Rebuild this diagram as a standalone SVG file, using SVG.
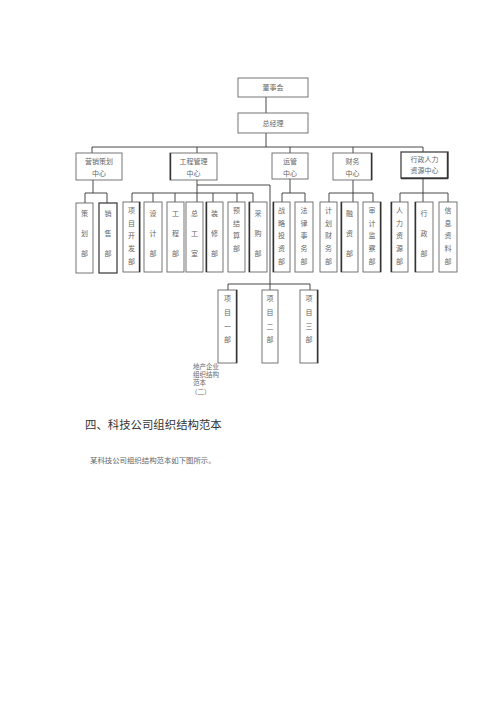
<svg xmlns="http://www.w3.org/2000/svg" width="500" height="707" viewBox="0 0 500 707">
<style>
.b{fill:#fff;stroke:#666;stroke-width:0.9}
.k{fill:#fff;stroke:#444;stroke-width:1.3}
.c{fill:none;stroke:#333;stroke-width:0.9}
.e{fill:none;stroke:#333;stroke-width:1.4}
text{font-family:"Liberation Serif","Noto Sans CJK SC",serif;fill:#666;font-size:7px;text-anchor:middle}
.s{font-size:6.5px}
</style>
<rect width="500" height="707" fill="#fff"/>
<g id="connectors">
<path class="c" d="M266 97V113M266 133V147M92 147H423M92 147V153M197 147V153M290 147V153M353 147V153M423 147V152"/>
<path class="c" d="M93 180V193M85 193H107M85 193V203M107 193V203"/>
<path class="c" d="M197 180V202M132 193H253M132 193V202M153 193V202M175 193V202M213 193V202M237 193V202M253 193V202"/>
<path class="c" d="M197 185H270V284M228 284H310M228 284V290M270 284V290M310 284V290"/>
<path class="c" d="M290 179V193M282 193H305M282 193V202M305 193V202"/>
<path class="c" d="M353 180V202M329 193H373M329 193V202M373 193V202"/>
<path class="c" d="M423 178V202M400 193H448M400 193V202M448 193V202"/>
</g>
<g id="n-dsh"><rect class="b" x="238" y="78" width="70" height="19"/><text x="273" y="90">董事会</text></g>
<g id="n-zjl"><rect class="b" x="238" y="113" width="70" height="20"/><text x="273" y="126">总经理</text></g>
<g id="n-yxch"><rect class="b" x="76" y="153" width="46" height="27"/><text x="99" y="164">营销策划</text><text x="99" y="176">中心</text></g>
<g id="n-gcgl"><rect class="b" x="170" y="153" width="47" height="27"/><path class="e" d="M170.5 153V180"/><text x="193.5" y="164">工程管理</text><text x="193.5" y="176">中心</text></g>
<g id="n-yg"><rect class="b" x="272" y="153" width="36" height="26"/><text x="290" y="164">运管</text><text x="290" y="176">中心</text></g>
<g id="n-cw"><rect class="b" x="333" y="153" width="39" height="27"/><path class="e" d="M371.5 153V180"/><text x="352.5" y="164">财务</text><text x="352.5" y="176">中心</text></g>
<g id="n-xz"><rect class="k" x="401" y="152" width="47" height="26"/><path class="e" d="M447.5 152V178.5H401"/><text x="424.5" y="162">行政人力</text><text x="424.5" y="173">资源中心</text></g>

<g id="n-chb"><rect class="b" x="76" y="203" width="17" height="70"/><text x="84.5" y="216">策</text><text x="84.5" y="236">划</text><text x="84.5" y="256">部</text></g>
<g id="n-xsb"><rect class="k" x="99" y="203" width="18" height="70"/><text x="108" y="216">销</text><text x="108" y="236">售</text><text x="108" y="256">部</text></g>

<g id="n-xmkf"><rect class="b" x="123" y="202" width="17" height="70"/><path class="e" d="M139.5 202V272"/><text x="131.5" y="213">项</text><text x="131.5" y="226">目</text><text x="131.5" y="238">开</text><text x="131.5" y="251">发</text><text x="131.5" y="264">部</text></g>
<g id="n-sj"><rect class="b" x="144" y="202" width="18" height="70"/><text x="153" y="216">设</text><text x="153" y="236">计</text><text x="153" y="256">部</text></g>
<g id="n-gc"><rect class="b" x="167" y="202" width="17" height="70"/><text x="175.5" y="216">工</text><text x="175.5" y="236">程</text><text x="175.5" y="256">部</text></g>
<g id="n-zgs"><rect class="b" x="186" y="202" width="17" height="70"/><text x="194.5" y="216">总</text><text x="194.5" y="236">工</text><text x="194.5" y="256">室</text></g>
<g id="n-zx"><rect class="b" x="206" y="202" width="17" height="70"/><path class="e" d="M206.5 202V272"/><text x="214.5" y="216">装</text><text x="214.5" y="236">修</text><text x="214.5" y="256">部</text></g>
<g id="n-yjs"><rect class="b" x="228" y="202" width="17" height="70"/><text x="236.5" y="213">预</text><text x="236.5" y="226">结</text><text x="236.5" y="238">算</text><text x="236.5" y="251">部</text></g>
<g id="n-cg"><rect class="b" x="249" y="202" width="18" height="70"/><path class="e" d="M249.5 202V272"/><text x="258" y="216">采</text><text x="258" y="236">购</text><text x="258" y="256">部</text></g>

<g id="n-zltz"><rect class="b" x="273" y="202" width="17" height="70"/><path class="e" d="M273.5 202V272"/><text x="281.5" y="213">战</text><text x="281.5" y="226">略</text><text x="281.5" y="238">投</text><text x="281.5" y="251">资</text><text x="281.5" y="264">部</text></g>
<g id="n-flsw"><rect class="b" x="295" y="202" width="18" height="70"/><text x="304" y="213">法</text><text x="304" y="226">律</text><text x="304" y="238">事</text><text x="304" y="251">务</text><text x="304" y="264">部</text></g>

<g id="n-jhcw"><rect class="b" x="320" y="202" width="17" height="70"/><text x="328.5" y="213">计</text><text x="328.5" y="226">划</text><text x="328.5" y="238">财</text><text x="328.5" y="251">务</text><text x="328.5" y="264">部</text></g>
<g id="n-rz"><rect class="b" x="341" y="202" width="17" height="70"/><path class="e" d="M341.5 202V272"/><text x="349.5" y="216">融</text><text x="349.5" y="236">资</text><text x="349.5" y="256">部</text></g>
<g id="n-sjjc"><rect class="b" x="363" y="202" width="18" height="70"/><path class="e" d="M380.5 202V272"/><text x="372" y="213">审</text><text x="372" y="226">计</text><text x="372" y="238">监</text><text x="372" y="251">察</text><text x="372" y="264">部</text></g>

<g id="n-rlzy"><rect class="b" x="391" y="202" width="17" height="70"/><path class="e" d="M391.5 202V272"/><text x="399.5" y="213">人</text><text x="399.5" y="226">力</text><text x="399.5" y="238">资</text><text x="399.5" y="251">源</text><text x="399.5" y="264">部</text></g>
<g id="n-xzb"><rect class="b" x="415" y="202" width="18" height="70"/><path class="e" d="M415.5 202V272"/><text x="424" y="216">行</text><text x="424" y="236">政</text><text x="424" y="256">部</text></g>
<g id="n-xxzl"><rect class="b" x="439" y="202" width="18" height="70"/><text x="448" y="213">信</text><text x="448" y="226">息</text><text x="448" y="238">资</text><text x="448" y="251">料</text><text x="448" y="264">部</text></g>

<g id="n-xm1"><rect class="b" x="218" y="290" width="19" height="73"/><path class="e" d="M236.5 290V363"/><text x="227.5" y="301">项</text><text x="227.5" y="315">目</text><text x="227.5" y="329">一</text><text x="227.5" y="342">部</text></g>
<g id="n-xm2"><rect class="b" x="262" y="290" width="16" height="73"/><text x="270" y="301">项</text><text x="270" y="315">目</text><text x="270" y="329">二</text><text x="270" y="342">部</text></g>
<g id="n-xm3"><rect class="b" x="300" y="290" width="18" height="73"/><path class="e" d="M317.5 290V363"/><text x="309" y="301">项</text><text x="309" y="315">目</text><text x="309" y="329">三</text><text x="309" y="342">部</text></g>

<g id="caption">
<text class="s" x="193" y="369" style="text-anchor:start">地产企业</text>
<text class="s" x="193" y="377" style="text-anchor:start">组织结构</text>
<text class="s" x="193" y="385" style="text-anchor:start">范本</text>
<text class="s" x="191" y="394" style="text-anchor:start">（二）</text>
</g>
<text x="85" y="429" style="text-anchor:start;font-size:11.4px;fill:#333">四、科技公司组织结构范本</text>
<text x="90" y="463" style="text-anchor:start;font-size:7.4px;fill:#666">某科技公司组织结构范本如下图所示。</text>
</svg>
